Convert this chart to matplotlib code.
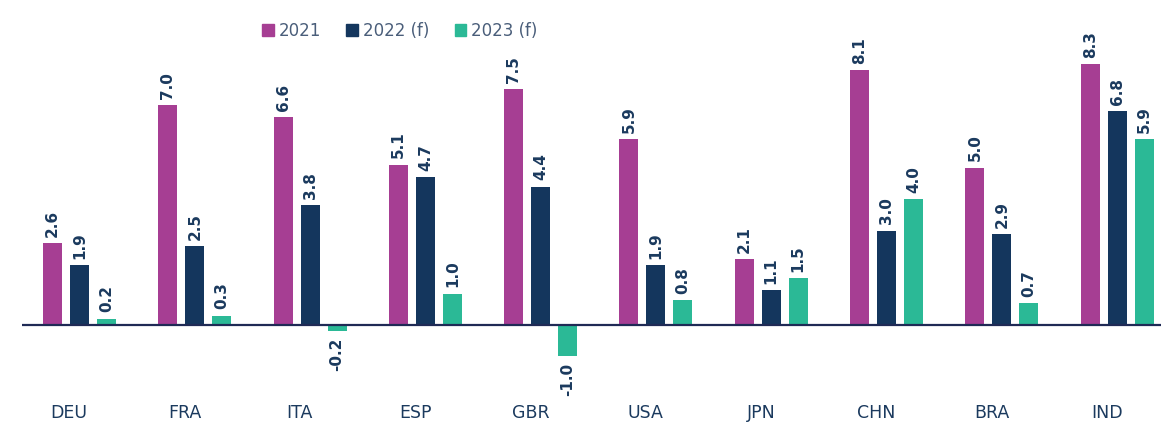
import matplotlib
matplotlib.use("Agg")
import matplotlib.pyplot as plt
from matplotlib.patches import Patch
import numpy as np

countries = ["DEU", "FRA", "ITA", "ESP", "GBR", "USA", "JPN", "CHN", "BRA", "IND"]
series_names = ["2021", "2022 (f)", "2023 (f)"]
v2021 = [2.6, 7.0, 6.6, 5.1, 7.5, 5.9, 2.1, 8.1, 5.0, 8.3]
v2022 = [1.9, 2.5, 3.8, 4.7, 4.4, 1.9, 1.1, 3.0, 2.9, 6.8]
v2023 = [0.2, 0.3, -0.2, 1.0, -1.0, 0.8, 1.5, 4.0, 0.7, 5.9]
colors = ["#A63E93", "#14365D", "#2BB996"]
text_color = "#1B3A5E"

plt.rcParams['font.family'] = ['DejaVu Sans']

W, H = 1161, 422
fig = plt.figure(figsize=(W / 100, H / 100), dpi=100)
ax = fig.add_axes([0, 0, 1, 1])

px_per_x = 115.3
x0_px = 79.5
zero_px = 325
px_per_y = 31.45

ax.set_xlim(-x0_px / px_per_x, (W - x0_px) / px_per_x)
ax.set_ylim(-(H - zero_px) / px_per_y, zero_px / px_per_y)
ax.axis("off")

x = np.arange(len(countries))
bw = 19 / px_per_x
off = 27 / px_per_x
all_vals = [v2021, v2022, v2023]
for i, (vals, c) in enumerate(zip(all_vals, colors)):
    xs = x + (i - 1) * off
    ax.bar(xs, vals, width=bw, color=c, zorder=2)
    for xi, v in zip(xs, vals):
        if v >= 0:
            ax.text(xi, v + 0.2, f"{v:.1f}", rotation=90, ha="center", va="bottom",
                    fontsize=11, fontweight="bold", color=text_color)
        else:
            ax.text(xi, v - 0.2, f"{v:.1f}", rotation=90, ha="center", va="top",
                    fontsize=11, fontweight="bold", color=text_color)

ax.plot([(22 - x0_px) / px_per_x, (W - x0_px) / px_per_x], [0, 0],
        color="#1F2A55", lw=1.6, zorder=3, solid_capstyle="butt")

for xi, c in zip(x, countries):
    ax.text(xi - 0.09, -(413 - zero_px) / px_per_y, c, ha="center", va="center",
            fontsize=12.5, color=text_color)

handles = [Patch(color=c, label=n) for c, n in zip(colors, series_names)]
fig.legend(handles=handles, loc="center", bbox_to_anchor=(400 / W, 1 - 31 / H),
           ncol=3, frameon=False, fontsize=12, handlelength=0.7, handleheight=0.7,
           handletextpad=0.3, columnspacing=1.5, labelcolor="#4A5E7A")

fig.savefig("out.png", dpi=100)
